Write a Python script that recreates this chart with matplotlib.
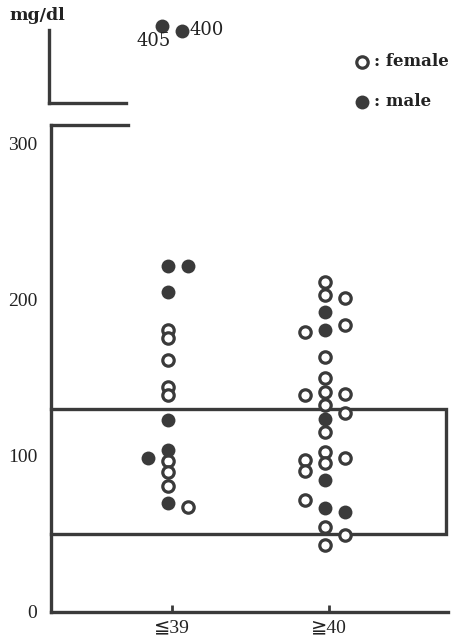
import matplotlib
matplotlib.use("Agg")
import matplotlib.pyplot as plt

# ---- data ----
groups = ["≦39", "≧40"]
# female (open circles): values and column index (-1 left, 0 centre, 1 right)
f39_vals = [181, 175.5, 161.5, 144, 139, 96.5, 90, 81, 67]
f39_cols = [0, 0, 0, 0, 0, 0, 0, 0, 1]
m39_vals = [222, 222, 205, 123, 104, 98.5, 70]
m39_cols = [0, 1, 0, 0, 0, -1, 0]
f40_vals = [211.5, 203, 201, 179.5, 184, 163.5, 150, 139, 141, 140, 132.5,
            127.5, 115.5, 102.5, 95.5, 97.5, 90.5, 98.5, 72, 54.5, 49.5, 43]
f40_cols = [0, 0, 1, -1, 1, 0, 0, -1, 0, 1, 0,
            1, 0, 0, 0, -1, -1, 1, -1, 0, 1, 0]
m40_vals = [192, 181, 124, 84.5, 66.5, 64]
m40_cols = [0, 0, 0, 0, 0, 1]
# outliers above the axis break (male, ≦39)
out_vals = [405, 400]
out_cols = [-0.45, 0.55]
out_labels = ["405", "400"]
ref_low, ref_high = 50, 130
yticks = [0, 100, 200, 300]

# ---- layout ----
W, H = 467, 643
DPI = 100
fig = plt.figure(figsize=(W / DPI, H / DPI), dpi=DPI)
serif = ["Liberation Serif", "DejaVu Sans", "Noto Sans CJK JP"]
serif2 = ["DejaVu Serif", "Noto Sans CJK JP"]
col = "#3a3a3a"
tcol = "#222222"
lw = 2.4

def px_ax(l, t, r, b):
    return fig.add_axes([l / W, 1 - b / H, (r - l) / W, (b - t) / H])

ax_l, ax_r = 51, 448
x0, x1 = 172, 329
ppu = (x1 - x0)
xlim = (1 - (x0 - ax_l) / ppu, 2 + (ax_r - x1) / ppu)
colw = 20 / ppu
gshift = -4 / ppu

ax = px_ax(ax_l, 125, ax_r, 612)
ax.set_xlim(*xlim)
ax.set_ylim(0, (612 - 125) / 1.56)
ax.spines["right"].set_visible(False)
for s in ["left", "bottom", "top"]:
    ax.spines[s].set_linewidth(lw)
    ax.spines[s].set_color(col)
ax.spines["top"].set_bounds(xlim[0], 1 - (x0 - 128) / ppu)
ax.set_yticks(yticks)
ax.set_yticklabels([str(v) for v in yticks], fontfamily=serif, fontsize=14, color=tcol)
ax.tick_params(axis="y", length=0, pad=10)
ax.set_xticks([1, 2])
ax.set_xticklabels(groups, fontfamily=serif, fontsize=14, color=tcol)
ax.tick_params(axis="x", direction="in", length=5, width=2, color=col, pad=5)

# reference box
xr = 2 + (446 - x1) / ppu
ax.plot([xlim[0], xr, xr, xlim[0]], [ref_high, ref_high, ref_low, ref_low],
        color=col, lw=lw, solid_joinstyle="miter", clip_on=False, zorder=2)

def draw(vals, cols, g, filled, a):
    xs = [g + gshift + c * colw for c in cols]
    if filled:
        a.plot(xs, vals, "o", ms=10, mfc=col, mec=col, mew=0, ls="none",
               zorder=4, clip_on=False)
    else:
        a.plot(xs, vals, "o", ms=8.2, mfc="white", mec=col, mew=2.3, ls="none",
               zorder=3, clip_on=False)

draw(f39_vals, f39_cols, 1, False, ax)
draw(m39_vals, m39_cols, 1, True, ax)
draw(f40_vals, f40_cols, 2, False, ax)
draw(m40_vals, m40_cols, 2, True, ax)

# upper broken axis (1 px per unit, 400 at y=31 px)
ax2 = px_ax(ax_l - 2, 15, ax_r, 103)
ax2.set_xlim(*xlim)
ax2.set_ylim(400 - (103 - 31), 400 + (31 - 15))
ax2.set_facecolor("none")
for s in ["right", "top"]:
    ax2.spines[s].set_visible(False)
for s in ["left", "bottom"]:
    ax2.spines[s].set_linewidth(lw)
    ax2.spines[s].set_color(col)
ax2.spines["left"].set_bounds(400 - (103 - 31), 401)
ax2.spines["bottom"].set_bounds(xlim[0], 1 - (x0 - 128) / ppu)
ax2.set_xticks([])
ax2.set_yticks([])
ox = [1 + c * colw for c in out_cols]
ax2.plot(ox, out_vals, "o", ms=10, mfc=col, mec=col, mew=0, ls="none", clip_on=False)
ax2.text(ox[0] - 8 / ppu, out_vals[0] - 15, out_labels[0], ha="center", va="center",
         fontfamily=serif2, fontsize=13, color=tcol)
ax2.text(ox[1] + 8 / ppu, out_vals[1] + 1, out_labels[1], ha="left", va="center",
         fontfamily=serif2, fontsize=13, color=tcol)

# unit label
fig.text(9 / W, 1 - 15 / H, "mg/dl", fontfamily=serif2, fontsize=12.5,
         fontweight="bold", ha="left", va="center", color=tcol)

# legend
fig.lines.append(plt.Line2D([362 / W], [1 - 62 / H], marker="o", ms=8.2, mfc="white",
                            mec=col, mew=2.3, transform=fig.transFigure))
fig.lines.append(plt.Line2D([362 / W], [1 - 102 / H], marker="o", ms=10, mfc=col,
                            mec=col, mew=0, transform=fig.transFigure))
fig.text(374 / W, 1 - 61 / H, ": female", fontfamily=serif2, fontsize=12,
         fontweight="bold", ha="left", va="center", color=tcol)
fig.text(374 / W, 1 - 101 / H, ": male", fontfamily=serif2, fontsize=12,
         fontweight="bold", ha="left", va="center", color=tcol)

fig.savefig("out.png", dpi=DPI)
